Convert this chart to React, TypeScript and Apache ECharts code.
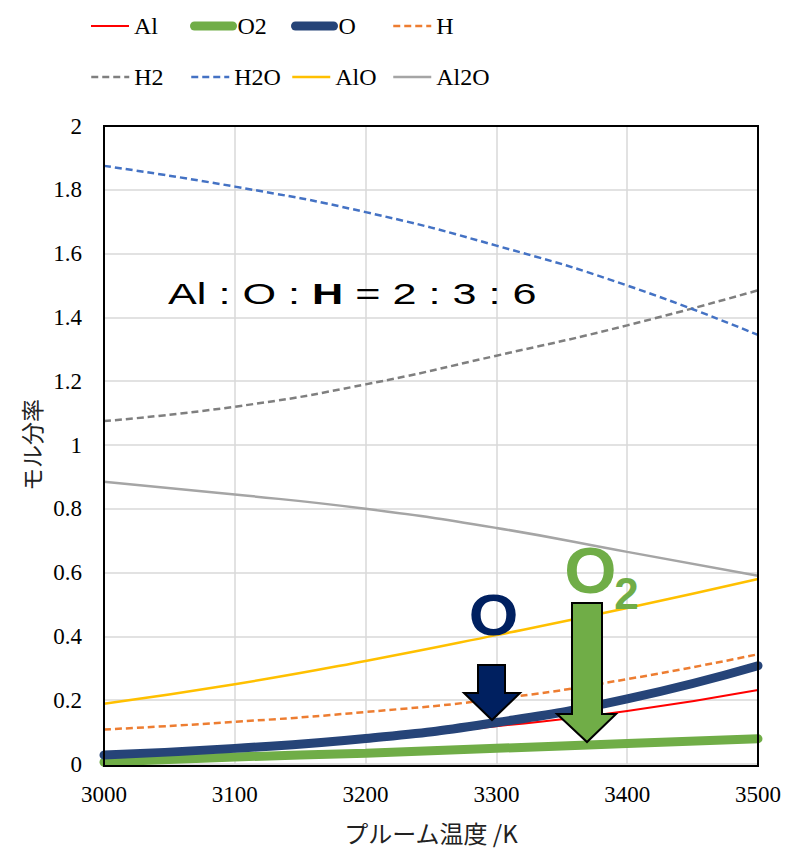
import React, { useEffect, useRef } from "react";
import * as echarts from "echarts";

const temps = [3000, 3100, 3200, 3300, 3400, 3500];
const xTicks = [3000, 3100, 3200, 3300, 3400, 3500];
const yTicks = [0, 0.2, 0.4, 0.6, 0.8, 1, 1.2, 1.4, 1.6, 1.8, 2];

const alVals = [0.025, 0.045, 0.075, 0.118, 0.166, 0.232];
const o2Vals = [0.006, 0.022, 0.034, 0.049, 0.064, 0.079];
const oVals = [0.028, 0.049, 0.08, 0.13, 0.204, 0.308];
const hVals = [0.108, 0.132, 0.163, 0.204, 0.266, 0.344];
const h2Vals = [1.075, 1.12, 1.19, 1.28, 1.375, 1.485];
const h2oVals = [1.875, 1.81, 1.73, 1.625, 1.5, 1.345];
const aloVals = [0.189, 0.25, 0.323, 0.404, 0.489, 0.58];
const al2oVals = [0.885, 0.845, 0.8, 0.74, 0.665, 0.59];

const seriesNames = ["Al", "O2", "O", "H", "H2", "H2O", "AlO", "Al2O"];
const seriesValues = [alVals, o2Vals, oVals, hVals, h2Vals, h2oVals, aloVals, al2oVals];
const seriesColors = ["#FF0000", "#70AD47", "#264478", "#ED7D31", "#7F7F7F", "#4472C4", "#FFC000", "#A5A5A5"];
const seriesWidths = [2, 9, 9, 2.5, 2.5, 2.5, 2.5, 2.5];
const seriesDashed = [false, false, false, true, true, true, false, false];

const legendCols = [85, 185, 286, 387];
const legendRows = [9, 60];

const SERIF = "Liberation Serif";

export default function App() {
  const ref = useRef<HTMLDivElement>(null);
  useEffect(() => {
    if (!ref.current) return;
    const chart = echarts.init(ref.current, null, { renderer: "svg" });
    const series = seriesNames.map((name, i) => ({
      name,
      type: "line",
      data: temps.map((t, j) => [t, seriesValues[i][j]]),
      smooth: true,
      symbol: "none",
      lineStyle: {
        color: seriesColors[i],
        width: seriesWidths[i],
        type: seriesDashed[i] ? [7, 4] : "solid",
        cap: seriesWidths[i] > 5 ? "round" : "butt",
      },
      itemStyle: { color: seriesColors[i] },
      z: 2 + i,
    }));
    const legends = seriesNames.map((name, i) => ({
      data: [name],
      left: legendCols[i % 4],
      top: legendRows[Math.floor(i / 4)],
      itemWidth: 38,
      itemHeight: 14,
      itemGap: 0,
      textStyle: { fontFamily: SERIF, fontSize: 24, color: "#000" },
      lineStyle: { width: "inherit" },
      itemStyle: { opacity: 0 },
      selectedMode: false,
    }));
    const option: any = {
      animation: false,
      backgroundColor: "#fff",
      textStyle: { fontFamily: SERIF },
      legend: legends,
      grid: {
        left: 104,
        right: 29,
        top: 126,
        bottom: 83,
        show: false,
      },
      xAxis: {
        type: "value",
        min: xTicks[0],
        max: xTicks[xTicks.length - 1],
        interval: 100,
        name: "プルーム温度 /K",
        nameLocation: "middle",
        nameGap: 56,
        nameTextStyle: { fontFamily: "Noto Sans CJK JP", fontSize: 24, color: "#222" },
        axisLine: { show: false },
        axisTick: { show: false },
        axisLabel: {
          fontFamily: SERIF,
          fontSize: 23,
          color: "#000",
          margin: 19,
          formatter: (v: number) => String(v),
        },
        splitLine: { show: true, lineStyle: { color: "#D9D9D9", width: 1.5 } },
      },
      yAxis: {
        type: "value",
        min: yTicks[0],
        max: yTicks[yTicks.length - 1],
        interval: 0.2,
        name: "モル分率",
        nameLocation: "middle",
        nameGap: 61,
        nameTextStyle: { fontFamily: "Noto Sans CJK JP", fontSize: 23, color: "#222" },
        axisLine: { show: false },
        axisTick: { show: false },
        axisLabel: {
          fontFamily: SERIF,
          fontSize: 23,
          color: "#000",
          margin: 22,
          formatter: (v: number) => String(Math.round(v * 10) / 10),
        },
        splitLine: { show: true, lineStyle: { color: "#D9D9D9", width: 1.5 } },
      },
      series,
      graphic: [
        {
          type: "rect",
          z: 50,
          shape: { x: 104, y: 126, width: 654, height: 640 },
          style: { fill: "none", stroke: "#000", lineWidth: 2 },
        },
        {
          type: "text",
          x: 168,
          y: 294,
          scaleX: 1.44,
          z: 100,
          style: {
            text: "{n|Al : O : }{b|H}{n| = 2 : 3 : 6}",
            textVerticalAlign: "middle",
            textAlign: "left",
            rich: {
              n: { fontFamily: "Liberation Sans", fontSize: 30, fill: "#000" },
              b: { fontFamily: "Liberation Sans", fontSize: 30, fontWeight: "bold", fill: "#000" },
            },
          },
        },
        {
          type: "text",
          x: 493.5,
          y: 615,
          scaleX: 1.1,
          z: 100,
          style: {
            text: "O",
            font: "bold 58px 'Liberation Sans'",
            fill: "#002060",
            textAlign: "center",
            textVerticalAlign: "middle",
          },
        },
        {
          type: "text",
          x: 590.5,
          y: 571,
          scaleX: 1.05,
          z: 100,
          style: {
            text: "O",
            font: "bold 64px 'Liberation Sans'",
            fill: "#70AD47",
            textAlign: "center",
            textVerticalAlign: "middle",
          },
        },
        {
          type: "text",
          x: 626.5,
          y: 593.5,
          z: 100,
          style: {
            text: "2",
            font: "bold 44px 'Liberation Sans'",
            fill: "#70AD47",
            textAlign: "center",
            textVerticalAlign: "middle",
          },
        },
        {
          type: "polygon",
          z: 100,
          shape: {
            points: [
              [478, 665], [505, 665], [505, 693], [520, 693], [492, 720], [464, 693], [478, 693],
            ],
          },
          style: { fill: "#002060", stroke: "#000", lineWidth: 2 },
        },
        {
          type: "polygon",
          z: 100,
          shape: {
            points: [
              [572, 603], [602, 603], [602, 714], [616, 714], [587, 742], [557, 714], [572, 714],
            ],
          },
          style: { fill: "#70AD47", stroke: "#000", lineWidth: 2 },
        },
      ],
    };
    chart.setOption(option);
    return () => chart.dispose();
  }, []);
  return <div ref={ref} style={{ width: 787, height: 849, position: "absolute", left: 0, top: 0 }} />;
}
